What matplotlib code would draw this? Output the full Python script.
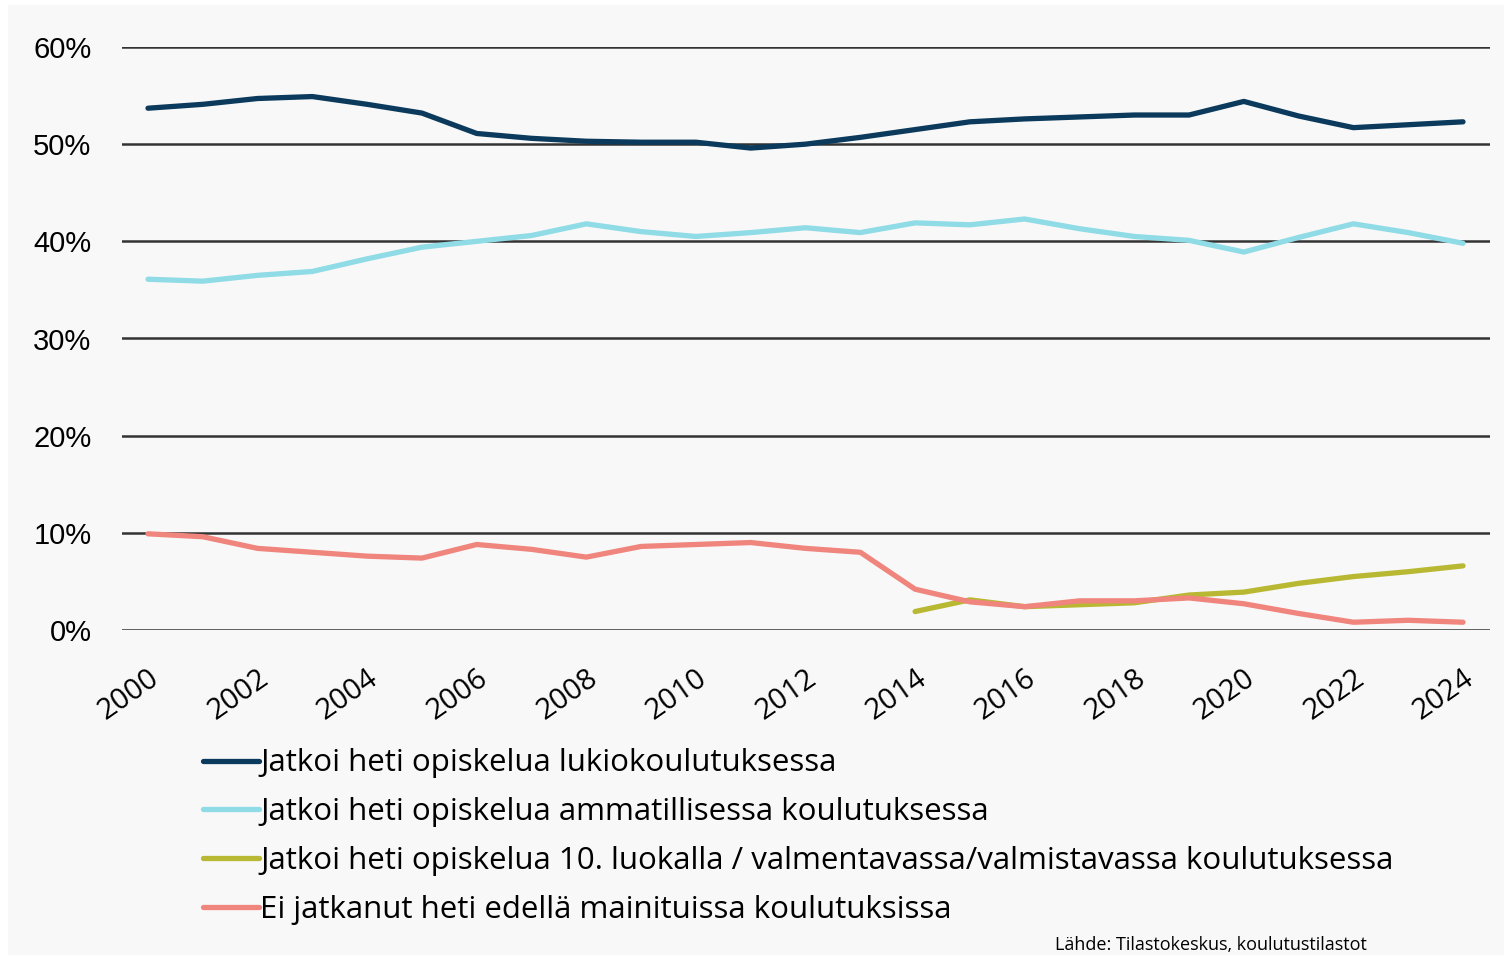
import matplotlib
matplotlib.use("Agg")
import matplotlib.pyplot as plt
from matplotlib.patches import Rectangle
from matplotlib.ticker import PercentFormatter

years = list(range(2000, 2025))
lukio = [53.7, 54.1, 54.7, 54.9, 54.1, 53.2, 51.1, 50.6, 50.3, 50.2, 50.2, 49.6,
         50.0, 50.7, 51.5, 52.3, 52.6, 52.8, 53.0, 53.0, 54.4, 52.9, 51.7, 52.0, 52.3]
ammatillinen = [36.1, 35.9, 36.5, 36.9, 38.2, 39.4, 40.0, 40.6, 41.8, 41.0, 40.5, 40.9,
                41.4, 40.9, 41.9, 41.7, 42.3, 41.3, 40.5, 40.1, 38.9, 40.4, 41.8, 40.9, 39.8]
years_valm = list(range(2014, 2025))
valmentava = [1.9, 3.1, 2.4, 2.6, 2.8, 3.6, 3.9, 4.8, 5.5, 6.0, 6.6]
ei_jatkanut = [9.9, 9.6, 8.4, 8.0, 7.6, 7.4, 8.8, 8.3, 7.5, 8.6, 8.8, 9.0,
               8.4, 8.0, 4.2, 2.9, 2.4, 3.0, 3.0, 3.3, 2.7, 1.7, 0.8, 1.0, 0.8]

labels = [
    "Jatkoi heti opiskelua lukiokoulutuksessa",
    "Jatkoi heti opiskelua ammatillisessa koulutuksessa",
    "Jatkoi heti opiskelua 10. luokalla / valmentavassa/valmistavassa koulutuksessa",
    "Ei jatkanut heti edellä mainituissa koulutuksissa",
]
colors = ["#0b3a5c", "#8fdbe6", "#b8b833", "#ef857c"]
source = "Lähde: Tilastokeskus, koulutustilastot"

W, H = 1504, 955
fig = plt.figure(figsize=(W / 100, H / 100), dpi=100, facecolor="white")
fig.patches.append(Rectangle((8 / W, 0), 1, 1 - 5 / H, transform=fig.transFigure,
                             facecolor="#f8f8f8", edgecolor="none", zorder=-10))

ax = fig.add_axes([122 / W, 1 - 630 / H, (1490 - 122) / W, (630 - 47) / H])
ax.set_facecolor("none")

lw = 3.8
ax.plot(years, lukio, color=colors[0], lw=lw, label=labels[0], solid_capstyle="round")
ax.plot(years, ammatillinen, color=colors[1], lw=lw, label=labels[1], solid_capstyle="round")
ax.plot(years_valm, valmentava, color=colors[2], lw=lw, label=labels[2], solid_capstyle="round")
ax.plot(years, ei_jatkanut, color=colors[3], lw=lw, label=labels[3], solid_capstyle="round")

ax.set_ylim(0, 60)
ax.set_xlim(2000 - 26 / 54.79, 2024 + 27 / 54.79)
ax.set_yticks(range(0, 61, 10))
ax.yaxis.set_major_formatter(PercentFormatter(decimals=0))
ax.set_xticks(years[::2])
ax.set_xticklabels([str(y) for y in years[::2]], rotation=35, ha="right",
                   rotation_mode="anchor", fontsize=21, family="Open Sans")
ax.tick_params(axis="x", length=0, pad=24)
ax.tick_params(axis="y", length=0, pad=22, labelsize=21)
for lab in ax.get_yticklabels():
    lab.set_family("Liberation Sans")
ax.grid(axis="y", color="#333333", lw=1.8)
ax.set_axisbelow(True)
for s in ax.spines.values():
    s.set_visible(False)

fig.legend(loc="upper left", bbox_to_anchor=(190 / W, 1 - 736 / H), frameon=False,
           prop={"family": "Open Sans", "size": 22.5}, handlelength=1.8,
           handletextpad=0.05, labelspacing=0.6, borderaxespad=0)

fig.text(1055 / W, 1 - 936 / H, source, ha="left", va="top", fontsize=13,
         family="Open Sans")

fig.savefig("out.png", dpi=100, facecolor="white")
